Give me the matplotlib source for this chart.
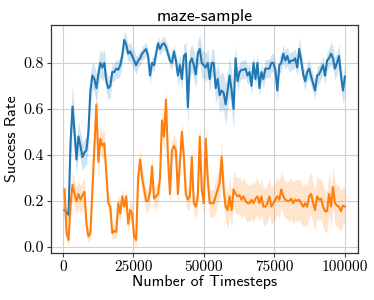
import numpy as np
import matplotlib
matplotlib.use("Agg")
from matplotlib import pyplot as plt

# success rate, ~142 evaluations between 600 and 100000 steps
blue_mean = [0.16, 0.15, 0.14, 0.45, 0.61, 0.50, 0.38, 0.48, 0.44, 0.39, 0.41, 0.42, 0.50,
             0.68, 0.745, 0.73, 0.69, 0.75, 0.80, 0.78, 0.80, 0.72, 0.69, 0.70, 0.76, 0.76,
             0.775, 0.77, 0.79, 0.83, 0.90, 0.88, 0.84, 0.85, 0.83, 0.81, 0.79,
             0.81, 0.82, 0.84, 0.85, 0.86, 0.83, 0.745, 0.80, 0.79, 0.84, 0.885, 0.86, 0.88,
             0.885, 0.87, 0.84, 0.81, 0.80, 0.85, 0.81, 0.745, 0.79, 0.73, 0.83, 0.84, 0.607,
             0.80, 0.82, 0.79, 0.75, 0.84, 0.86, 0.80, 0.79, 0.78, 0.80, 0.73, 0.80,
             0.80, 0.69, 0.73, 0.66, 0.68, 0.67, 0.62, 0.68, 0.745, 0.68, 0.60, 0.82, 0.72,
             0.76, 0.77, 0.77, 0.775, 0.745, 0.76, 0.70, 0.80, 0.73, 0.80, 0.69, 0.76, 0.73,
             0.775, 0.775, 0.775, 0.80, 0.80, 0.77, 0.68, 0.79, 0.80, 0.84, 0.81, 0.83,
             0.80, 0.81, 0.81, 0.82, 0.78, 0.86, 0.81, 0.75, 0.72, 0.76, 0.775, 0.74, 0.71,
             0.68, 0.745, 0.75, 0.77, 0.79, 0.745, 0.81, 0.82, 0.84, 0.82, 0.775, 0.80, 0.83,
             0.745, 0.68, 0.74]
blue_std = [0.02, 0.02, 0.03, 0.08, 0.10, 0.08, 0.07, 0.07, 0.06, 0.06, 0.06, 0.06, 0.07,
            0.07, 0.06, 0.06, 0.06, 0.06, 0.06, 0.06, 0.06, 0.05, 0.05, 0.05, 0.04, 0.04,
            0.04, 0.04, 0.04, 0.04, 0.04, 0.04, 0.04, 0.04, 0.04, 0.04, 0.04,
            0.03, 0.03, 0.03, 0.03, 0.03, 0.03, 0.04, 0.03, 0.03, 0.03, 0.03, 0.03, 0.03,
            0.03, 0.03, 0.03, 0.03, 0.03, 0.03, 0.03, 0.05, 0.05, 0.05, 0.05, 0.05, 0.08,
            0.06, 0.06, 0.06, 0.06, 0.06, 0.06, 0.06, 0.06, 0.06, 0.06, 0.06, 0.06,
            0.06, 0.07, 0.07, 0.08, 0.08, 0.08, 0.09, 0.08, 0.08, 0.08, 0.09, 0.06, 0.05,
            0.04, 0.04, 0.04, 0.04, 0.04, 0.04, 0.04, 0.04, 0.04, 0.04, 0.04, 0.04, 0.04,
            0.04, 0.04, 0.04, 0.04, 0.04, 0.04, 0.05, 0.04, 0.04, 0.04, 0.04, 0.04,
            0.04, 0.04, 0.04, 0.04, 0.04, 0.05, 0.04, 0.04, 0.04, 0.04, 0.04, 0.04, 0.04,
            0.04, 0.04, 0.04, 0.04, 0.04, 0.04, 0.04, 0.04, 0.05, 0.05, 0.05, 0.05, 0.05,
            0.05, 0.06, 0.06]
orange_mean = [0.25, 0.06, 0.03, 0.18, 0.27, 0.23, 0.20, 0.23, 0.205, 0.225, 0.24, 0.10, 0.045,
               0.06, 0.25, 0.45, 0.62, 0.37, 0.47, 0.44, 0.45, 0.32, 0.19, 0.175, 0.06, 0.07,
               0.065, 0.19, 0.145, 0.22, 0.175, 0.22, 0.10, 0.16, 0.145, 0.045, 0.03,
               0.30, 0.38, 0.30, 0.25, 0.20, 0.20, 0.24, 0.35, 0.21, 0.22, 0.23, 0.30, 0.55,
               0.48, 0.64, 0.39, 0.23, 0.42, 0.44, 0.42, 0.23, 0.37, 0.50, 0.39, 0.23, 0.205,
               0.22, 0.39, 0.19, 0.175, 0.22, 0.48, 0.25, 0.19, 0.47, 0.29, 0.19, 0.19,
               0.19, 0.22, 0.25, 0.28, 0.39, 0.25, 0.175, 0.16, 0.22, 0.16, 0.25, 0.23, 0.22,
               0.225, 0.205, 0.22, 0.20, 0.19, 0.19, 0.205, 0.19, 0.21, 0.22, 0.19, 0.22, 0.175,
               0.175, 0.19, 0.22, 0.175, 0.19, 0.205, 0.22, 0.205, 0.25, 0.22, 0.205, 0.20,
               0.20, 0.21, 0.19, 0.205, 0.20, 0.205, 0.19, 0.175, 0.19, 0.175, 0.22, 0.23, 0.19,
               0.16, 0.22, 0.205, 0.21, 0.175, 0.155, 0.155, 0.23, 0.175, 0.26, 0.19, 0.18, 0.175,
               0.155, 0.18, 0.175]
orange_std = [0.03, 0.03, 0.03, 0.05, 0.06, 0.06, 0.06, 0.06, 0.06, 0.06, 0.06, 0.04, 0.03,
              0.03, 0.04, 0.05, 0.06, 0.06, 0.06, 0.06, 0.06, 0.05, 0.04, 0.04, 0.03, 0.03,
              0.03, 0.04, 0.04, 0.04, 0.04, 0.04, 0.04, 0.04, 0.04, 0.03, 0.03,
              0.05, 0.05, 0.05, 0.05, 0.05, 0.05, 0.05, 0.05, 0.05, 0.05, 0.05, 0.06, 0.06,
              0.06, 0.06, 0.05, 0.05, 0.05, 0.05, 0.05, 0.05, 0.05, 0.05, 0.05, 0.05, 0.05,
              0.05, 0.05, 0.05, 0.05, 0.05, 0.06, 0.06, 0.06, 0.06, 0.06, 0.06, 0.06,
              0.06, 0.07, 0.07, 0.07, 0.07, 0.07, 0.07, 0.08, 0.08, 0.08, 0.08, 0.08, 0.08,
              0.08, 0.08, 0.08, 0.08, 0.08, 0.08, 0.08, 0.08, 0.08, 0.08, 0.08, 0.08, 0.08,
              0.08, 0.08, 0.08, 0.08, 0.08, 0.08, 0.08, 0.08, 0.08, 0.08, 0.08, 0.08,
              0.09, 0.09, 0.09, 0.09, 0.09, 0.09, 0.09, 0.09, 0.09, 0.09, 0.09, 0.09, 0.09,
              0.09, 0.09, 0.09, 0.09, 0.09, 0.09, 0.09, 0.09, 0.09, 0.09, 0.09, 0.09, 0.09,
              0.09, 0.08, 0.08]

timesteps = np.linspace(600, 100000, len(blue_mean))
x_ticks = [0, 25000, 50000, 75000, 100000]
y_ticks = [0.0, 0.2, 0.4, 0.6, 0.8]

fig = plt.figure(figsize=(3.74, 3.0), dpi=100)
ax = fig.add_axes([0.136, 0.157, 0.821, 0.76])

for mean, std, color in [(blue_mean, blue_std, '#1f77b4'), (orange_mean, orange_std, '#ff7f0e')]:
    mean = np.array(mean)
    std = np.array(std)
    ax.fill_between(timesteps, mean - std, mean + std, color=color, alpha=0.2, lw=0)
    ax.plot(timesteps, mean, color=color, lw=1.5)

ax.set_xlim(-4250, 104600)
ax.set_ylim(-0.026, 0.965)
ax.set_xticks(x_ticks)
ax.set_yticks(y_ticks)
ax.set_xticklabels([str(t) for t in x_ticks], fontfamily='cmr10', fontsize=11)
ax.set_yticklabels(['%.1f' % v for v in y_ticks], fontfamily='cmr10', fontsize=11.5)
ax.grid(True, color='#d0d0d0', lw=0.8)
ax.set_axisbelow(True)
ax.tick_params(length=3, width=0.8, color='#444444', pad=2)
for s in ax.spines.values():
    s.set_color('#333333')
    s.set_linewidth(0.9)

ax.set_title('maze-sample', fontfamily='cmss10', fontsize=13, pad=3)
ax.set_xlabel('Number of Timesteps', fontfamily='cmss10', fontsize=11.5, labelpad=1)
ax.set_ylabel('Success Rate', fontfamily='cmss10', fontsize=11.5, labelpad=3)

fig.savefig('out.png', dpi=100)
